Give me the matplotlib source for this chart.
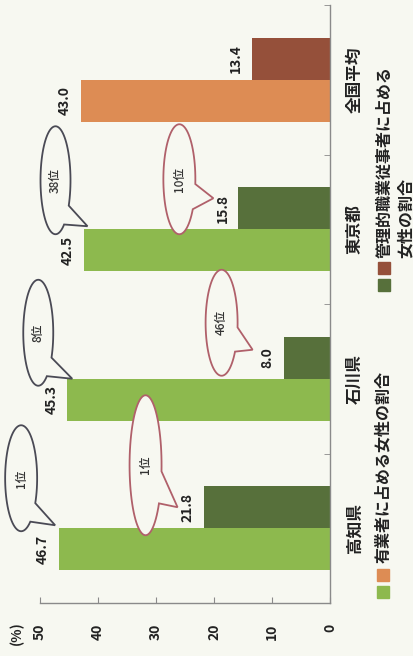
import numpy as np
import matplotlib
matplotlib.use("Agg")
import matplotlib.pyplot as plt
from matplotlib.patches import Polygon, Rectangle

plt.rcParams['font.family'] = ['Noto Sans CJK JP', 'DejaVu Sans']

# data (chart is drawn rotated 90 degrees, as in the scanned page)
categories = ['高知県', '石川県', '東京都', '全国平均']
employed_share = [46.7, 45.3, 42.5, 43.0]   # 有業者に占める女性の割合 (%)
manager_share = [21.8, 8.0, 15.8, 13.4]     # 管理的職業従事者に占める女性の割合 (%)
employed_rank = ['1位', '8位', '38位']
manager_rank = ['1位', '46位', '10位']
value_ticks = [0, 10, 20, 30, 40, 50]
legend_labels = ['有業者に占める女性の割合', '管理的職業従事者に占める\n女性の割合']

BG = '#f7f8f1'
LIGHT = '#8db94e'
ORANGE = '#dd8c54'
DARK = '#57703b'
BROWN = '#95503a'
GRID = '#8a8a8a'
INK = '#222222'

W, H = 414, 656
fig = plt.figure(figsize=(W / 100, H / 100), dpi=100, facecolor=BG)
ax = fig.add_axes([40 / W, 53 / H, 290 / W, 598 / H])
ax.set_facecolor(BG)

y = np.arange(len(categories))
bw = 0.28
ax.barh(y - bw / 2, employed_share, height=bw, color=[LIGHT] * 3 + [ORANGE], zorder=2)
ax.barh(y + bw / 2, manager_share, height=bw, color=[DARK] * 3 + [BROWN], zorder=2)

ax.set_xlim(50, 0)
ax.set_ylim(-0.5, len(categories) - 0.5)

for s in ['top', 'left']:
    ax.spines[s].set_visible(False)
for s in ['right', 'bottom']:
    ax.spines[s].set_color(GRID)
    ax.spines[s].set_linewidth(1.0)

# category axis (on the right after rotation)
ax.yaxis.tick_right()
ax.set_yticks(y)
ax.set_yticklabels(categories, rotation=90, va='center', fontsize=12,
                   fontweight='bold', color=INK)
ax.tick_params(axis='y', which='major', length=0, pad=11)
ax.set_yticks(y + 0.5, minor=True)
ax.tick_params(axis='y', which='minor', direction='in', length=4, color=GRID)

# value axis (at the bottom after rotation)
ax.set_xticks(value_ticks)
ax.set_xticklabels([str(v) for v in value_ticks], rotation=90, fontsize=10,
                   fontweight='bold', color=INK)
ax.tick_params(axis='x', direction='in', length=4, color=GRID, pad=15)
fig.text(17 / W, 1 - 633 / H, '(%)', rotation=90, ha='center', va='center',
         fontsize=10, fontweight='bold', color=INK)

# value labels
for yy, v in zip(y - bw / 2, employed_share):
    ax.annotate(f'{v:.1f}', (v, yy), xytext=(-11.5, 0), textcoords='offset points',
                rotation=90, ha='center', va='center', fontsize=10,
                fontweight='bold', color=INK)
for yy, v in zip(y + bw / 2, manager_share):
    ax.annotate(f'{v:.1f}', (v, yy), xytext=(-11.5, 0), textcoords='offset points',
                rotation=90, ha='center', va='center', fontsize=10,
                fontweight='bold', color=INK)


def draw_bubble(ax, anchor, centre, semi, tip, gap, text, color):
    """Speech bubble; offsets are in pixels relative to anchor (image y down)."""
    ax0 = ax.transData.transform(anchor)
    cx, cy = ax0[0] + centre[0], ax0[1] - centre[1]
    a, b = semi
    t = np.radians(np.linspace(gap[1], gap[0] + 360, 80))
    pts = np.column_stack([cx + a * np.cos(t), cy + b * np.sin(t)])
    pts = np.vstack([pts, [ax0[0] + tip[0], ax0[1] - tip[1]]])
    pts = ax.transData.inverted().transform(pts)
    ax.add_patch(Polygon(pts, closed=True, facecolor=BG, edgecolor=color,
                         linewidth=1.3, zorder=4, clip_on=False))
    c = ax.transData.inverted().transform((cx, cy))
    ax.text(c[0], c[1], text, rotation=90, ha='center', va='center',
            fontsize=8.5, fontweight='medium', color='#333333', zorder=5)


# bubble layout: centre offset, semi axes, tip offset (pixels)
light_centre = [(-38, -50), (-29, -46), (-28, -49)]
light_semi = [(16, 53), (15, 53), (15, 54)]
light_tip = [(-4, -3), (5, 0), (4, -3)]
dark_centre = [(-58, -63), (-62, -56), (-59, -50)]
dark_semi = [(16, 70), (16, 53), (16, 55)]
dark_tip = [(-26, -21), (-31, -29), (-25, -31)]

for i, r in enumerate(employed_rank):
    draw_bubble(ax, (employed_share[i], y[i]), light_centre[i], light_semi[i],
                light_tip[i], (-55, -28), r, '#4a4a55')
for i, r in enumerate(manager_rank):
    draw_bubble(ax, (manager_share[i], y[i]), dark_centre[i], dark_semi[i],
                dark_tip[i], (-33, -5), r, '#b0606a')

# legend, drawn by hand in figure pixels
def square(x, yy, color):
    fig.patches.append(Rectangle((x / W, 1 - (yy + 12) / H), 12 / W, 12 / H,
                                 transform=fig.transFigure, color=color))

square(377, 586, LIGHT)
square(377, 569, ORANGE)
square(378, 279, DARK)
square(378, 262, BROWN)
fig.text(383 / W, 1 - 563 / H, legend_labels[0], rotation=90, ha='center',
         va='bottom', fontsize=11.5, fontweight='bold', color=INK)
fig.text(395 / W, 1 - 258 / H, legend_labels[1], rotation=90, ha='center',
         va='bottom', multialignment='left', fontsize=11.5, fontweight='bold',
         color=INK, linespacing=1.35)

fig.savefig('out.png', dpi=100, facecolor=BG)
